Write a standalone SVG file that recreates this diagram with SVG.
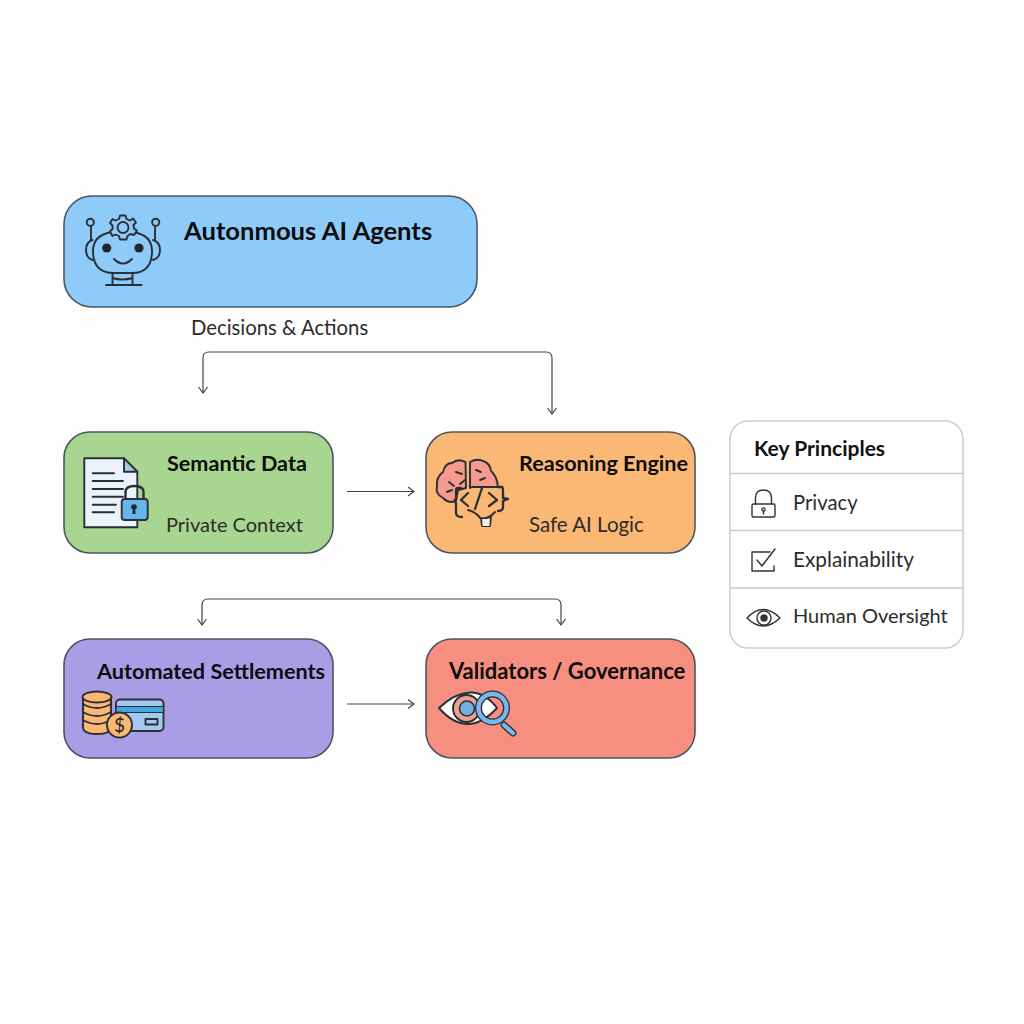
<svg xmlns="http://www.w3.org/2000/svg" width="1024" height="1024" viewBox="0 0 1024 1024">
<style>
text{font-family:"Lato","Liberation Sans",sans-serif;fill:#222}
.t{font-weight:700;fill:#0c0c0c;font-size:21.700px}
.s{font-size:20.300px;fill:#2c2c2c}
.box{stroke:#4c5560;stroke-width:1.600}
.i{fill:none;stroke:#2a2f36;stroke-width:1.900;stroke-linecap:round;stroke-linejoin:round}
.c{fill:none;stroke:#444;stroke-width:1.200;stroke-linejoin:round}
.p{fill:none;stroke:#333;stroke-width:1.400;stroke-linecap:round;stroke-linejoin:round}
.d{stroke:#c9c9c9;stroke-width:1.500}
</style>
<defs>
<marker id="a" markerWidth="12" markerHeight="12" refX="9.500" refY="5" orient="auto-start-reverse" markerUnits="userSpaceOnUse"><path d="M3.500 0.500L9.500 5L3.500 9.500" fill="none" stroke="#444" stroke-width="1.200"/></marker>
</defs>
<rect width="1024" height="1024" fill="#fefefe"/>
<g id="connectors">
<path class="c" marker-start="url(#a)" marker-end="url(#a)" d="M203 393V358Q203 352 209 352H546Q552 352 552 358V414"/>
<path class="c" marker-start="url(#a)" marker-end="url(#a)" d="M202 625V605Q202 599 208 599H555Q561 599 561 605V625"/>
<path class="c" marker-end="url(#a)" d="M347 491.500H414"/>
<path class="c" marker-end="url(#a)" d="M347 704H414"/>
<text x="191" y="334.500" style="font-size:20.300px;fill:#2c2c2c">Decisions &amp; Actions</text>
</g>
<g id="agents">
<rect class="box" x="64" y="196" width="413" height="111" rx="28" fill="#8fcbf9"/>
<g class="i">
<circle cx="90.300" cy="222.300" r="3.600"/><circle cx="155.700" cy="222.300" r="3.600"/>
<path d="M91 226V240M155 226V240"/>
<path d="M92.500 240Q86 242 86 250Q86 258 92.500 260M153 240Q160 242 160 250Q160 258 153 260"/>
<path d="M112 232Q93 235 93 251Q93 273 114 273H132Q152 273 152 251Q152 235 133 232"/>
<path d="M114 259Q123 268 132 259"/>
<path d="M112.500 273V285M132.500 273V285M112.500 278Q122 281 132.500 278M106 285H141.500"/>
<path fill="#8fcbf9" d="M120 215.500L125.500 215.500L126.500 219L130 220.500L133 218.500L136 222.500L133.500 225L134 228.500L137 230.500L134 235L130.500 234L127.500 236L126.500 239.500H120L119 236L115.500 234.500L112.500 236L110 231.500L112.500 229L112.500 225.500L110 223L112.500 219L115.500 220.500L119 219Z"/>
<circle cx="123" cy="227.500" r="5.500"/>
</g>
<circle cx="106.700" cy="248" r="4.600" fill="#22262b"/><circle cx="139" cy="248" r="4.600" fill="#22262b"/>
<text class="t" x="184" y="240" style="font-size:25.600px">Autonmous AI Agents</text>
</g>
<g id="semantic">
<rect class="box" x="64" y="432" width="269" height="121" rx="26" fill="#a8d690"/>
<g class="i">
<path fill="#eaf3fb" d="M84.300 458.300H124L137.300 471.700V527.300H84.300Z"/>
<path fill="#a6cbe8" d="M124 458.300L137.300 471.700H124Z"/>
<path d="M92.700 473.300H114M92.700 481H123M92.700 489H123M92.700 496.700H123M92.700 504.700H116M92.700 512.300H114"/>
<path stroke-width="2.400" d="M125.500 499V492Q125.500 486 134.500 486Q143.500 486 143.500 492V499"/>
<rect x="121.700" y="499" width="26" height="21" rx="3" fill="#66b6ee"/>
</g>
<circle cx="134" cy="507" r="2.800" fill="#22262b"/><path d="M133 507H135L135.500 514H132.500Z" fill="#22262b"/>
<text class="t" x="167" y="471" style="font-size:21.600px">Semantic Data</text>
<text class="s" x="166" y="532" style="font-size:20px">Private Context</text>
</g>
<g id="reasoning">
<rect class="box" x="426" y="432" width="269" height="121" rx="26" fill="#fbb874"/>
<g class="i">
<path fill="#f79a8e" d="M465.500 462Q458 458 452 463Q445 463 443 472Q436 477 437 486Q435 494 443 498Q449 504 456 501L458 490L466 488Z"/>
<path fill="#f79a8e" d="M470 462Q477 458 483 461Q490 463 491 471Q497 476 498 487H472L470 488Z"/>
<path d="M456 472L462 474M449 482L454 486M460 484L465 480M476 470L481 472M480 480L485 478M447 492L452 490"/>
<path stroke-width="2.300" d="M461 488H458Q456 488 456 491V499L454 501L456 503V513Q456 517 462 517M498 487H502Q503 487 503 491V498L508 499L503 501V507Q503 511 498 511"/>
<path stroke-width="2.300" d="M468 493L461 500L468 506M475 509L482 488M489 493L497 500L489 506"/>
<path d="M468 510Q476 512 480 518Q488 520 495 512M481 518L482 526H490L491 517"/>
</g>
<rect x="482.500" y="519" width="7" height="7" fill="#f3efe8"/>
<text class="t" x="519" y="471" style="font-size:21.600px">Reasoning Engine</text>
<text class="s" x="529" y="532" style="font-size:20.500px">Safe AI Logic</text>
</g>
<g id="settlements">
<rect class="box" x="64" y="639" width="269" height="119" rx="26" fill="#a99de6"/>
<g class="i" stroke-width="2">
<path fill="#fbb874" d="M83 697V727Q83 734 97 734Q111 734 111 727V697Z"/>
<ellipse cx="97" cy="697" rx="14.500" ry="5.500" fill="#fbb874"/>
<path d="M83 704Q97 712 111 704M83 712Q97 720 111 712M83 720Q97 728 111 720"/>
<rect x="116" y="699.500" width="47.500" height="31.500" rx="4" fill="#a6c8ee"/>
<rect x="116" y="706.500" width="47.500" height="6" fill="#3fa9e6" stroke-width="1.200"/>
<rect x="145.500" y="719" width="12" height="5.500"/>
<circle cx="119.500" cy="725" r="12.500" fill="#fbb874"/>
</g>
<text x="119.500" y="732" text-anchor="middle" style="font-size:19px;fill:#22262b;font-weight:400">$</text>
<text class="t" x="97" y="679" style="font-size:21.650px">Automated Settlements</text>
</g>
<g id="validators">
<rect class="box" x="426" y="639" width="269" height="119" rx="26" fill="#f78f80"/>
<g class="i" stroke-width="2">
<path fill="#fff" d="M439 708Q455 693 470 692.500Q485 692 497 708Q482 724 468 724Q453 724 439 708Z"/>
<circle cx="466.500" cy="708.500" r="13.500" fill="#eda08c"/>
<circle cx="467" cy="708.500" r="7.500" fill="#6fb2e2" stroke-width="1.600"/>
<path d="M504 725L513 733" stroke="#2a2f36" stroke-width="7"/>
<path d="M504 725L513 733" stroke="#74b8ee" stroke-width="4.300"/>
<circle cx="492.500" cy="708" r="14" stroke-width="7" stroke="#2a2f36"/>
<circle cx="492.500" cy="708" r="14" stroke-width="4.400" stroke="#74b8ee"/>
</g>
<text class="t" x="449" y="679" style="font-size:22px">Validators / Governance</text>
</g>
<g id="principles">
<rect x="730" y="421" width="233" height="227" rx="18" fill="#fff" stroke="#cfcfcf" stroke-width="1.600"/>
<path class="d" d="M730 473.500H963M730 530.500H963M730 588H963"/>
<text x="754" y="456" style="font-size:21px;font-weight:700;fill:#111">Key Principles</text>
<g class="p">
<rect x="752" y="504" width="23" height="13" rx="1.500"/>
<path d="M755.500 504V498Q755.500 490 763.500 490Q771.500 490 771.500 498V504"/>
<circle cx="763.500" cy="509.500" r="1.600"/><path d="M763.500 511V514"/>
<path d="M774 566V571H752V552H770M757 560L762 566L775 549"/>
<path d="M747 618Q763 601 780 618Q763 634 747 618Z"/>
<circle cx="764" cy="618" r="7"/><circle cx="764" cy="618" r="3" fill="#333"/>
</g>
<text class="s" x="793" y="510">Privacy</text>
<text class="s" x="793" y="567" style="font-size:20.800px">Explainability</text>
<text class="s" x="793" y="622.500" style="font-size:20px">Human Oversight</text>
</g>
</svg>
